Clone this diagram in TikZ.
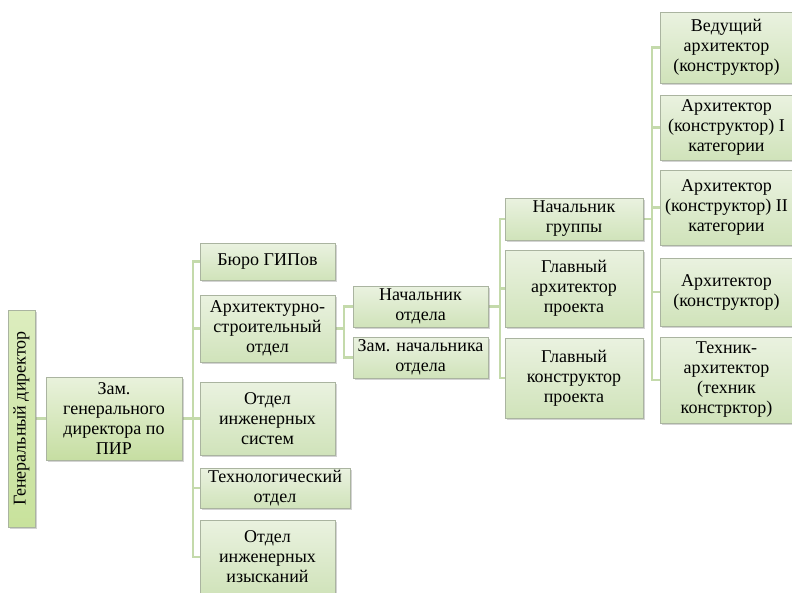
\documentclass[tikz,border=0pt]{standalone}
\usepackage{fontspec}
\setmainfont{Liberation Serif}
\usetikzlibrary{shadows,backgrounds}
\definecolor{conncol}{HTML}{C4DAAB}
\definecolor{boxline}{HTML}{AAB4A0}
\definecolor{boxtop}{HTML}{EAF2E0}
\definecolor{boxbot}{HTML}{D0E3BA}
\definecolor{zamtop}{HTML}{E9F2DC}
\definecolor{zambot}{HTML}{C6DEA2}
\definecolor{gdtop}{HTML}{DCEDBE}
\definecolor{gdbot}{HTML}{C8E29C}
\begin{document}
\begin{tikzpicture}[x=1pt,y=-1pt,
  box/.style={draw=boxline, line width=0.5pt, top color=boxtop, bottom color=boxbot,
    drop shadow={opacity=0.35, shadow xshift=1.5pt, shadow yshift=-1.5pt},
    align=center, inner sep=0pt, font=\fontsize{18}{20}\selectfont},
  conn/.style={draw=conncol, line width=2.8pt}]
\useasboundingbox (0,0) rectangle (792,592);

% level 0 and 1
\node[box, top color=gdtop, bottom color=gdbot, minimum width=27pt, minimum height=217pt] (gd) at (21.5,418.5) {};
\node[rotate=90, font=\fontsize{18}{20}\selectfont] (gdt) at (gd.center) {Генеральный директор};
\node[box, top color=zamtop, bottom color=zambot, minimum width=136pt, minimum height=83pt] (zam) at (114,418.5) {Зам.\\генерального\\директора по\\ПИР};

% level 2
\node[box, minimum width=135pt, minimum height=37pt] (buro) at (267.5,261.5) {Бюро ГИПов};
\node[box, minimum width=135pt, minimum height=67pt] (as) at (267.5,328.5) {Архитектурно-\\строительный\\отдел};
\node[box, minimum width=135pt, minimum height=73pt] (ois) at (267.5,418.5) {Отдел\\инженерных\\систем};
\node[box, minimum width=150pt, minimum height=40pt] (tech) at (275,488) {Технологический\\отдел};
\node[box, minimum width=135pt, minimum height=74pt] (izy) at (267.5,557) {Отдел\\инженерных\\изысканий};

% level 3
\node[box, minimum width=135pt, minimum height=41pt] (nach) at (420.5,306.5) {Начальник\\отдела};
\node[box, minimum width=135pt, minimum height=41pt] (zamnach) at (420.5,357.5) {Зам. начальника\\отдела};

% level 4
\node[box, minimum width=138pt, minimum height=42pt] (nachgr) at (574,219) {Начальник\\группы};
\node[box, minimum width=138pt, minimum height=77pt] (glarch) at (574,288.5) {Главный\\архитектор\\проекта};
\node[box, minimum width=138pt, minimum height=80pt] (glkon) at (574,378) {Главный\\конструктор\\проекта};

% level 5
\node[box, minimum width=133pt, minimum height=71pt] (ved) at (726.5,47.5) {Ведущий\\архитектор\\(конструктор)};
\node[box, minimum width=133pt, minimum height=65pt] (a1) at (726.5,127.5) {Архитектор\\(конструктор) I\\категории};
\node[box, minimum width=133pt, minimum height=75pt] (a2) at (726.5,207.5) {Архитектор\\(конструктор) II\\категории};
\node[box, minimum width=133pt, minimum height=68pt] (a3) at (726.5,292) {Архитектор\\(конструктор)};
\node[box, minimum width=133pt, minimum height=86pt] (tex) at (726.5,380) {Техник-\\архитектор\\(техник\\констрктор)};

% connectors
\coordinate (b1) at (193,418.5);
\coordinate (b2) at (344,328.5);
\coordinate (b3) at (500,306.5);
\coordinate (b4) at (652,219);

\begin{scope}[on background layer]
\draw[conn] (gd.east) -- (zam.west);
\draw[conn] (zam.east) -- (b1);
\draw[conn] (b1) |- (buro.west);
\draw[conn] (b1) |- (as.west);
\draw[conn] (b1) |- (ois.west);
\draw[conn] (b1) |- (tech.west);
\draw[conn] (b1) |- (izy.west);

\draw[conn] (as.east) -- (b2);
\draw[conn] (b2) |- (nach.west);
\draw[conn] (b2) |- (zamnach.west);

\draw[conn] (nach.east) -- (b3);
\draw[conn] (b3) |- (nachgr.west);
\draw[conn] (b3) |- (glarch.west);
\draw[conn] (b3) |- (glkon.west);

\draw[conn] (nachgr.east) -- (b4);
\draw[conn] (b4) |- (ved.west);
\draw[conn] (b4) |- (a1.west);
\draw[conn] (b4) |- (a2.west);
\draw[conn] (b4) |- (a3.west);
\draw[conn] (b4) |- (tex.west);
\end{scope}
\end{tikzpicture}
\end{document}
